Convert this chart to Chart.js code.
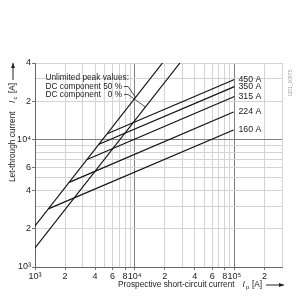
<!DOCTYPE html>
<html><head><meta charset="utf-8">
<script src="https://cdn.jsdelivr.net/npm/chart.js@4.4.0/dist/chart.umd.min.js"></script>
<style>html,body{margin:0;padding:0;background:#fff}#wrap{width:300px;height:300px}</style>
</head><body><div id="wrap"><canvas id="c" width="300" height="300"></canvas></div>
<script>
// ---- data ----
const xTickValues = [1e3,2e3,3e3,4e3,5e3,6e3,7e3,8e3,9e3,1e4,2e4,3e4,4e4,5e4,6e4,7e4,8e4,9e4,1e5,2e5,3e5];
const xTickLabels = ['10³','2','','4','','6','','8','','10⁴','2','','4','','6','','8','','10⁵','2',''];
const yTickValues = [1e3,2e3,3e3,4e3,5e3,6e3,7e3,8e3,9e3,1e4,2e4,3e4,4e4];
const yTickLabels = ['10³','2','','4','','6','','','','10⁴','2','','4'];
const majorValues = [1e3,1e4,1e5];

// unlimited peak values (straight lines)
const dc50Ip = [1000, 19000];
const dc50Ic = [2100, 40000];
const dc0Ip  = [1000, 28400];
const dc0Ic  = [1410, 40000];

// fuse let-through lines
const fuseRatings = ['450 A','350 A','315 A','224 A','160 A'];
const fuseStartIp = [5300, 4380, 3330, 2200, 1360];
const fuseStartIc = [11130, 9200, 6990, 4620, 2860];
const fuseEndIp   = [100000, 100000, 100000, 98000, 98000];
const fuseEndIc   = [29700, 26100, 21800, 16500, 11900];
const fuseLabelIp = 100000;

// leader targets on the unlimited lines
const leader50Ip = 10200;
const leader0Ip  = 12800;

const FONT = "'Liberation Sans', Arial, Helvetica, sans-serif";
const TXT = '#222';

const pts = (xs, ys) => xs.map((v,i)=>({x:v, y:ys[i]}));
const lineDs = (data) => ({data, borderColor:'#111', borderWidth:1.2, pointRadius:0, tension:0, fill:false});

const datasets = [
  lineDs(pts(dc50Ip, dc50Ic)),
  lineDs(pts(dc0Ip, dc0Ic)),
  ...fuseRatings.map((r,i)=>lineDs(pts([fuseStartIp[i], fuseEndIp[i]],[fuseStartIc[i], fuseEndIc[i]])))
];

function valueOnLine(xs, ys, v){
  const lx0=Math.log10(xs[0]), lx1=Math.log10(xs[1]);
  const ly0=Math.log10(ys[0]), ly1=Math.log10(ys[1]);
  const t=(Math.log10(v)-lx0)/(lx1-lx0);
  return Math.pow(10, ly0 + t*(ly1-ly0));
}

function arrow(ctx, x0, y0, x1, y1){
  ctx.beginPath(); ctx.moveTo(x0,y0); ctx.lineTo(x1,y1); ctx.lineWidth=1; ctx.stroke();
  const a=Math.atan2(y1-y0,x1-x0), L=5, W=2;
  ctx.beginPath();
  ctx.moveTo(x1,y1);
  ctx.lineTo(x1-L*Math.cos(a)+W*Math.sin(a), y1-L*Math.sin(a)-W*Math.cos(a));
  ctx.lineTo(x1-L*Math.cos(a)-W*Math.sin(a), y1-L*Math.sin(a)+W*Math.cos(a));
  ctx.closePath(); ctx.fill();
}

const textPlugin = {
  id:'texts',
  afterDraw(chart){
    const {ctx, chartArea:ca, scales:{x, y}} = chart;
    ctx.save();
    ctx.fillStyle=TXT; ctx.strokeStyle=TXT;
    ctx.textBaseline='middle'; ctx.textAlign='left';

    // fuse labels
    ctx.font = `8.8px ${FONT}`;
    const lx = x.getPixelForValue(fuseLabelIp) + 4;
    fuseRatings.forEach((r,i)=>ctx.fillText(r, lx, y.getPixelForValue(fuseEndIc[i])));

    // annotation
    ctx.font = `8.3px ${FONT}`;
    const ax = ca.left + 10.5;
    ctx.fillText('Unlimited peak values:', ax, ca.top + 15);
    const l2 = 'DC component 50 %';
    ctx.fillText(l2, ax, ca.top + 24);
    const endX = ax + ctx.measureText(l2).width;
    ctx.fillText('DC component', ax, ca.top + 32);
    ctx.textAlign='right';
    ctx.fillText('0 %', endX, ca.top + 32);
    ctx.textAlign='left';
    ctx.lineWidth=0.8;
    // leaders
    const t50x = x.getPixelForValue(leader50Ip), t50y = y.getPixelForValue(valueOnLine(dc50Ip, dc50Ic, leader50Ip));
    ctx.beginPath(); ctx.moveTo(endX+2, ca.top+23.5); ctx.lineTo(endX+6, ca.top+23.5); ctx.lineTo(t50x, t50y); ctx.stroke();
    const t0x = x.getPixelForValue(leader0Ip), t0y = y.getPixelForValue(valueOnLine(dc0Ip, dc0Ic, leader0Ip));
    ctx.beginPath(); ctx.moveTo(endX+2, ca.top+31.5); ctx.lineTo(endX+6, ca.top+31.5); ctx.lineTo(t0x, t0y); ctx.stroke();

    // x axis title
    ctx.font = `8.3px ${FONT}`;
    const ty = 285;
    ctx.fillText('Prospective short-circuit current', 118, ty);
    ctx.font = `italic 8.5px ${FONT}`;
    ctx.fillText('I', 242.5, ty);
    ctx.font = `6px ${FONT}`;
    ctx.fillText('p', 246, ty+2.5);
    ctx.font = `8.3px ${FONT}`;
    ctx.fillText('[A]', 252, ty);
    arrow(ctx, 266, ty, 284, ty);

    // y axis title
    ctx.save();
    ctx.translate(13, 182); ctx.rotate(-Math.PI/2);
    ctx.font = `8.3px ${FONT}`;
    ctx.fillText('Let-through current', 0, 0);
    ctx.font = `italic 8.5px ${FONT}`;
    ctx.fillText('I', 79, 0);
    ctx.font = `6px ${FONT}`;
    ctx.fillText('c', 82.5, 2.5);
    ctx.font = `8.3px ${FONT}`;
    ctx.fillText('[A]', 89, 0);
    arrow(ctx, 102, 0, 119, 0);
    ctx.restore();

    // figure id
    ctx.save();
    ctx.translate(291, 96); ctx.rotate(-Math.PI/2);
    ctx.font = `5px ${FONT}`; ctx.fillStyle='#9a9a9a';
    ctx.fillText('I201_10675', 0, 0);
    ctx.restore();

    ctx.restore();
  }
};

const gridColor = (ctx) => (ctx.tick && majorValues.includes(ctx.tick.value)) ? '#808080' : '#d4d4d4';

new Chart(document.getElementById('c'), {
  type:'line',
  data:{datasets},
  plugins:[textPlugin],
  options:{
    responsive:false, animation:false, devicePixelRatio:1,
    parsing:true,
    layout:{padding:{top:63, right:18, left:0, bottom:0}},
    plugins:{legend:{display:false}, tooltip:{enabled:false}},
    scales:{
      x:{
        type:'logarithmic', min:1000, max:300000,
        afterBuildTicks:s=>{s.ticks = xTickValues.map(v=>({value:v}));},
        afterFit:s=>{s.height=33;},
        ticks:{autoSkip:false, maxRotation:0, minRotation:0, padding:1, color:TXT,
          font:{family:FONT, size:9},
          callback:(v,i)=>xTickLabels[i] ?? ''},
        grid:{color:gridColor, lineWidth:1, tickLength:3,
          tickColor:(ctx)=> (ctx.index!==undefined && xTickLabels[ctx.index]) ? '#777' : 'rgba(0,0,0,0)'},
        border:{color:'#666'}
      },
      y:{
        type:'logarithmic', min:1000, max:40000,
        afterBuildTicks:s=>{s.ticks = yTickValues.map(v=>({value:v}));},
        afterFit:s=>{s.width=35;},
        ticks:{autoSkip:false, padding:1, color:TXT, font:{family:FONT, size:9},
          callback:(v,i)=>yTickLabels[i] ?? ''},
        grid:{color:gridColor, lineWidth:1, tickLength:3,
          tickColor:(ctx)=> (ctx.index!==undefined && yTickLabels[ctx.index]) ? '#777' : 'rgba(0,0,0,0)'},
        border:{color:'#666'}
      }
    }
  }
});
</script></body></html>
